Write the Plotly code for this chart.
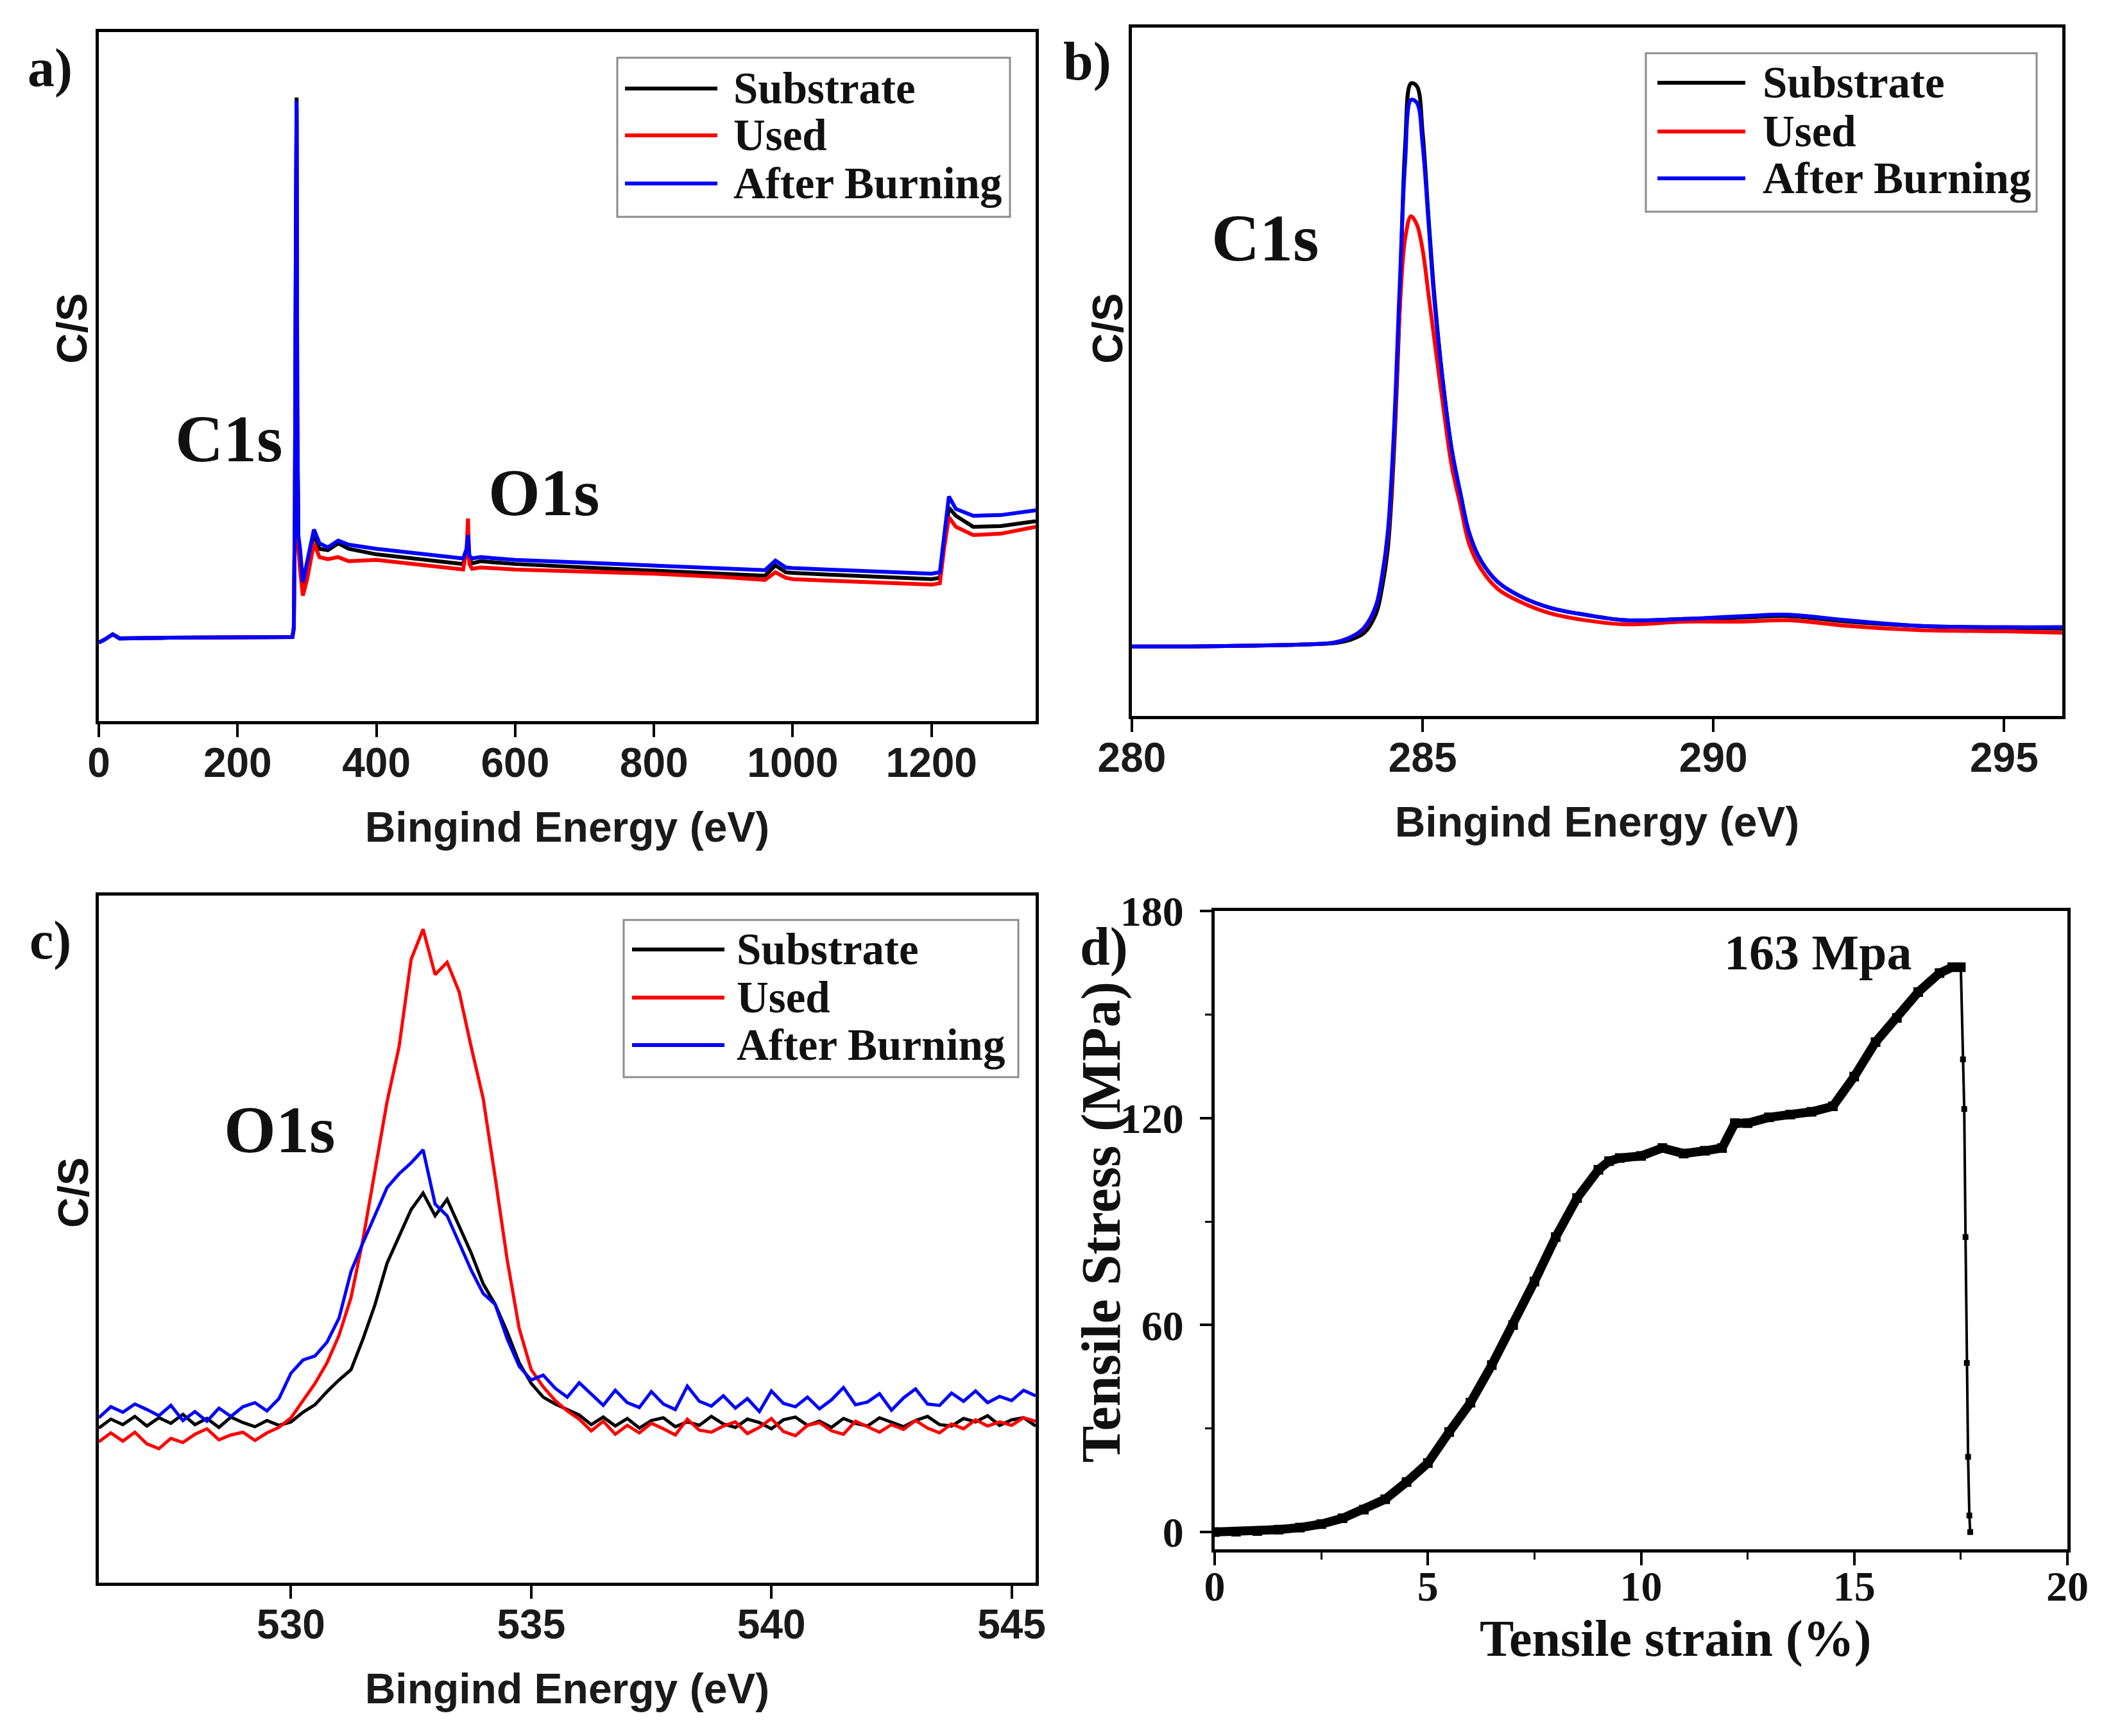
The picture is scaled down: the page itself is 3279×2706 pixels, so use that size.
import plotly.graph_objects as go

W, H = 3279, 2706

# ---------------- data ----------------
series_names = ["Substrate", "Used", "After Burning"]
series_colors = ["#000000", "#ff0000", "#0000ff"]

# a) survey spectrum
survey_ev = [0, 8, 20, 30, 100, 200, 279, 281, 282.5, 284, 285, 286, 287.5, 290, 294, 300,
             310, 318, 330, 345, 360, 400, 450, 500, 525, 530, 532, 534, 538, 550, 600, 700,
             800, 900, 960, 975, 990, 1000, 1100, 1200, 1212, 1218, 1225, 1235, 1260, 1300, 1350]
survey_substrate = [11.4, 11.8, 12.6, 12.0, 12.1, 12.2, 12.2, 13.5, 30, 70, 90.5, 45, 26, 24, 19.4, 22,
                    27.2, 25, 24.8, 25.8, 25.0, 24.2, 23.6, 23.0, 22.8, 24.5, 27.0, 23.4, 22.9, 23.2, 22.8, 22.3,
                    21.8, 21.4, 21.1, 22.6, 21.6, 21.5, 21.0, 20.6, 20.8, 26, 31.0, 29.8, 28.2, 28.3, 29.0]
survey_used = [11.4, 11.8, 12.6, 12.0, 12.1, 12.2, 12.2, 13.5, 29, 68, 89.0, 44, 25, 22, 18.2, 20.5,
               25.8, 23.8, 23.5, 23.8, 23.2, 23.4, 22.8, 22.2, 22.0, 25.0, 29.4, 22.8, 22.1, 22.3, 22.0, 21.7,
               21.4, 20.9, 20.5, 21.6, 20.8, 20.6, 20.2, 19.8, 20.0, 25, 29.6, 28.2, 27.0, 27.2, 28.2]
survey_burned = [11.4, 11.8, 12.6, 12.0, 12.1, 12.2, 12.2, 13.5, 31, 72, 90.0, 46, 27, 25, 20.2, 23,
                 27.8, 25.8, 25.2, 26.2, 25.6, 25.0, 24.4, 23.8, 23.6, 25.0, 27.0, 24.0, 23.6, 23.8, 23.4, 23.0,
                 22.6, 22.2, 21.9, 23.3, 22.3, 22.2, 21.8, 21.4, 21.6, 27, 32.6, 30.8, 29.8, 29.9, 30.6]

# b) C1s high resolution
c1s_ev = [280, 281, 282, 283, 283.5, 283.8, 284.0, 284.2, 284.3, 284.4, 284.5, 284.6, 284.7, 284.8,
          284.9, 285.0, 285.1, 285.2, 285.35, 285.5, 285.65, 285.8, 286.0, 286.3, 286.7, 287.2,
          287.8, 288.5, 289.5, 290.5, 291.3, 292.3, 293.5, 295, 296]
c1s_substrate = [10.1, 10.1, 10.2, 10.4, 10.6, 11.2, 12.1, 14.9, 18.5, 24.2, 37.1, 58.0, 83.0, 91.9,
                 91.5, 84.7, 72.6, 61.3, 48.4, 38.7, 32.3, 26.6, 22.6, 19.4, 17.3, 15.7,
                 14.7, 13.9, 14.1, 14.3, 14.5, 13.7, 13.1, 12.8, 12.7]
c1s_used = [10.1, 10.1, 10.2, 10.4, 10.7, 11.6, 12.8, 16.0, 20.0, 26.0, 38.7, 58.0, 69.4, 72.6,
            71.4, 67.7, 61.3, 54.8, 45.2, 36.3, 30.6, 25.0, 21.4, 18.4, 16.5, 14.9,
            13.9, 13.3, 13.7, 13.7, 13.9, 13.1, 12.5, 12.3, 12.1]
c1s_burned = [10.1, 10.1, 10.2, 10.4, 10.7, 11.6, 12.9, 16.1, 20.2, 26.6, 40.3, 61.3, 80.6, 89.5,
              89.1, 83.0, 71.8, 60.5, 48.4, 38.7, 32.3, 26.6, 22.6, 19.4, 17.3, 15.7,
              14.7, 13.9, 14.1, 14.5, 14.7, 13.9, 13.1, 12.9, 12.9]

# c) O1s high resolution (0.25 eV steps)
o1s_ev = [526.0, 526.25, 526.5, 526.75, 527.0, 527.25, 527.5, 527.75, 528.0, 528.25, 528.5, 528.75,
          529.0, 529.25, 529.5, 529.75, 530.0, 530.25, 530.5, 530.75, 531.0, 531.25, 531.5, 531.75,
          532.0, 532.25, 532.5, 532.75, 533.0, 533.25, 533.5, 533.75, 534.0, 534.25, 534.5, 534.75,
          535.0, 535.25, 535.5, 535.75, 536.0, 536.25, 536.5, 536.75, 537.0, 537.25, 537.5, 537.75,
          538.0, 538.25, 538.5, 538.75, 539.0, 539.25, 539.5, 539.75, 540.0, 540.25, 540.5, 540.75,
          541.0, 541.25, 541.5, 541.75, 542.0, 542.25, 542.5, 542.75, 543.0, 543.25, 543.5, 543.75,
          544.0, 544.25, 544.5, 544.75, 545.0, 545.25, 545.5]
o1s_substrate = [22.5, 23.8, 23.0, 24.2, 22.8, 24.0, 23.2, 24.5, 23.0, 23.9, 22.6, 24.1,
                 23.3, 22.7, 23.6, 22.9, 23.4, 24.8, 25.9, 27.8, 29.5, 31.0, 35.5, 40.5,
                 46.5, 50.5, 54.3, 56.7, 53.4, 55.8, 52.0, 48.0, 43.5, 40.5, 36.5, 32.0,
                 29.0, 27.0, 26.0, 25.2, 24.4, 23.0, 24.1, 22.8, 23.9, 22.5, 23.6, 24.0,
                 22.7, 23.4, 22.9, 24.2, 23.1, 22.6, 23.8, 23.3, 22.4, 23.7, 24.1, 22.9,
                 23.5, 22.6, 23.9, 23.2, 22.8, 24.0, 23.3, 22.7, 23.6, 24.2, 23.0, 22.8,
                 23.9, 23.4, 24.3, 22.9, 23.7, 24.0, 22.8]
o1s_used = [20.5, 21.8, 20.6, 21.9, 20.2, 19.5, 21.0, 20.4, 21.6, 22.4, 20.8, 21.5,
            21.9, 20.7, 21.8, 22.6, 24.0, 26.5, 29.0, 32.0, 36.0, 41.5, 50.0, 60.0,
            70.0, 78.0, 90.7, 95.1, 88.5, 90.3, 86.0, 78.0, 70.5, 59.0, 47.0, 37.0,
            31.0, 28.5, 26.5, 25.0, 23.8, 22.1, 23.5, 21.6, 22.9, 21.8, 23.2, 22.4,
            21.5, 23.8, 22.2, 21.9, 22.8, 23.4, 21.7, 22.6, 23.9, 22.0, 21.4, 22.9,
            23.3, 22.1, 21.6, 23.5, 22.7, 21.9, 23.0, 22.3, 23.6, 22.5, 21.8, 23.1,
            22.4, 23.7, 22.8, 23.4, 22.9, 24.0, 23.5]
o1s_burned = [24.0, 25.6, 24.8, 26.0, 25.2, 24.3, 25.8, 23.6, 24.9, 23.5, 25.4, 24.2,
              25.6, 26.2, 25.0, 26.8, 30.5, 32.4, 33.0, 35.0, 38.5, 45.3, 49.5, 53.4,
              57.5, 59.5, 61.1, 63.0, 55.1, 53.4, 49.5, 45.5, 42.1, 40.5, 35.5, 31.5,
              29.5, 30.2, 28.3, 27.0, 29.1, 27.4, 25.8, 28.0, 26.2, 25.5, 27.8, 26.0,
              25.2, 28.6, 26.4, 25.7, 27.2, 25.4, 26.8, 24.9, 27.9, 26.1, 25.6, 27.0,
              25.3, 26.6, 28.4, 25.9, 26.3, 27.5, 25.1, 26.9, 28.2, 26.0, 25.8, 27.6,
              26.4, 27.9, 26.2, 27.1, 26.5, 28.0, 27.2]

# d) tensile test
strain = [0, 0.5, 1, 1.5, 2, 2.5, 3, 3.5, 4, 4.5, 5, 5.5, 6, 6.5, 7, 7.5, 8, 8.5, 9, 9.25,
          9.5, 10, 10.5, 11, 11.5, 11.9, 12.2, 12.5, 13, 13.5, 14, 14.5, 15, 15.5, 16, 16.5,
          17, 17.3, 17.5]
stress = [0, 0.1, 0.3, 0.7, 1.3, 2.3, 4.0, 6.5, 9.5, 14.5, 20, 29, 37.5, 48.4, 60, 72.6, 85.5,
          96.8, 105, 107.5, 108.4, 109, 111.3, 109.7, 110.5, 111.3, 118.5, 118.5, 120.2, 121,
          121.8, 123.4, 132, 142, 149, 156.5, 162, 163.7, 163.7]
fracture_strain = [17.5, 17.55, 17.58, 17.61, 17.64, 17.67, 17.7, 17.72]
fracture_stress = [163.7, 137, 122.6, 85.5, 49, 21.8, 4.8, 0]


def dom_x(x0, x1):
    return [x0 / W, x1 / W]


def dom_y(y0, y1):
    return [1 - y1 / H, 1 - y0 / H]


sans_tick = dict(family="Liberation Sans", size=64, color="#1a1a1a", weight="bold")
sans_title = dict(family="Liberation Sans", size=66, color="#1a1a1a", weight="bold")
serif_tick = dict(family="Liberation Serif", size=66, color="#111111", weight="bold")

fig = go.Figure()

spectra = [
    ("x", "y", survey_ev, [survey_substrate, survey_used, survey_burned], 6, "linear"),
    ("x2", "y2", c1s_ev, [c1s_substrate, c1s_used, c1s_burned], 6, "spline"),
    ("x3", "y3", o1s_ev, [o1s_substrate, o1s_used, o1s_burned], 5, "linear"),
]
for xa, ya, ev, ys, lw, shape in spectra:
    for name, color, vals in zip(series_names, series_colors, ys):
        fig.add_trace(go.Scatter(x=ev, y=vals, mode="lines", name=name, showlegend=False,
                                 line=dict(color=color, width=lw, shape=shape), xaxis=xa, yaxis=ya))

fig.add_trace(go.Scatter(x=strain, y=stress, mode="lines+markers", showlegend=False,
                         line=dict(color="black", width=14), marker=dict(color="black", size=15, symbol="square"),
                         xaxis="x4", yaxis="y4"))
fig.add_trace(go.Scatter(x=fracture_strain, y=fracture_stress, mode="lines+markers", showlegend=False,
                         line=dict(color="black", width=4), marker=dict(color="black", size=9, symbol="square"),
                         xaxis="x4", yaxis="y4"))


def xps_x(domain, rng, tick0, dtick, anchor):
    return dict(domain=domain, range=rng, anchor=anchor, automargin=False, showline=True, linecolor="black",
                linewidth=5, mirror=True, ticks="outside", ticklen=20, tickwidth=4, tickcolor="black",
                tick0=tick0, dtick=dtick, showgrid=False, zeroline=False, tickfont=sans_tick,
                ticklabelstandoff=-15,
                title=dict(text="Bingind Energy (eV)", font=sans_title, standoff=44))


def xps_y(domain, anchor):
    return dict(domain=domain, range=[0, 100], anchor=anchor, automargin=False, showline=True,
                linecolor="black", linewidth=5, mirror=True, ticks="", showticklabels=False,
                showgrid=False, zeroline=False)


fig.update_layout(
    width=W, height=H, margin=dict(l=0, r=0, t=0, b=0),
    paper_bgcolor="white", plot_bgcolor="white", showlegend=False,
    xaxis=xps_x(dom_x(146, 1606), [0, 1350], 0, 200, "y"),
    yaxis=xps_y(dom_y(42, 1116), "x"),
    xaxis2=xps_x(dom_x(1756, 3206), [280, 296], 280, 5, "y2"),
    yaxis2=xps_y(dom_y(35, 1108), "x2"),
    xaxis3=xps_x(dom_x(146, 1606), [526, 545.5], 530, 5, "y3"),
    yaxis3=xps_y(dom_y(1388, 2459), "x3"),
    xaxis4=dict(domain=dom_x(1885, 3214), range=[0, 20], anchor="y4", automargin=False, showline=True,
                linecolor="black", linewidth=5, mirror=True, ticks="outside", ticklen=20, tickwidth=4,
                tickcolor="black", dtick=5,
                minor=dict(dtick=2.5, ticks="outside", ticklen=11, tickwidth=3, tickcolor="black"),
                showgrid=False, zeroline=False, tickfont=serif_tick, ticklabelstandoff=-24),
    yaxis4=dict(domain=dom_y(1412, 2407), range=[-5, 180], anchor="x4", automargin=False, showline=True,
                linecolor="black", linewidth=5, mirror=True, ticks="outside", ticklen=18, tickwidth=4,
                tickcolor="black", dtick=60,
                minor=dict(dtick=30, ticks="outside", ticklen=10, tickwidth=3, tickcolor="black"),
                showgrid=False, zeroline=False, tickfont=serif_tick, ticklabelstandoff=12),
)

shapes = []
annotations = []


def add_legend(box, rows, line_x, text_x):
    x0, x1, y0, y1 = box
    shapes.append(dict(type="rect", xref="paper", yref="paper", x0=x0 / W, x1=x1 / W,
                       y0=1 - y1 / H, y1=1 - y0 / H, line=dict(color="#8c8c8c", width=3),
                       fillcolor="white", layer="above"))
    for name, color, ry in zip(series_names, series_colors, rows):
        shapes.append(dict(type="line", xref="paper", yref="paper", x0=line_x[0] / W, x1=line_x[1] / W,
                           y0=1 - ry / H, y1=1 - ry / H, line=dict(color=color, width=6), layer="above"))
        annotations.append(dict(text=name, xref="paper", yref="paper", x=text_x / W, y=1 - ry / H,
                                xanchor="left", yanchor="middle", showarrow=False,
                                font=dict(family="Liberation Serif", size=69, color="#111111", weight="bold")))


add_legend((954, 1566, 82, 330), (130, 203, 278), (966, 1110), 1133)
add_legend((2557, 3166, 75, 322), (121, 197, 270), (2575, 2712), 2737)
add_legend((964, 1579, 1426, 1671), (1472, 1547, 1621), (977, 1121), 1138)


def add_text(text, x, y, size, family="Liberation Serif", angle=0):
    annotations.append(dict(text=text, xref="paper", yref="paper", x=x / W, y=1 - y / H,
                            xanchor="center", yanchor="middle", showarrow=False, textangle=angle,
                            font=dict(family=family, size=size, color="#111111", weight="bold")))


add_text("a)", 70, 98, 84)
add_text("b)", 1686, 88, 84)
add_text("c)", 70, 1458, 84)
add_text("d)", 1712, 1468, 84)
add_text("C1s", 349, 676, 104)
add_text("O1s", 839, 759, 104)
add_text("C1s", 1964, 362, 104)
add_text("O1s", 427, 1752, 104)
add_text("163 Mpa", 2825, 1476, 78)

# y-axis titles (placed off-centre, as in the original figure)
add_text("C/S", 104, 504, 66, family="Liberation Sans", angle=-90)
add_text("C/S", 1718, 504, 66, family="Liberation Sans", angle=-90)
add_text("C/S", 106, 1851, 66, family="Liberation Sans", angle=-90)
add_text("Tensile Stress (MPa)", 1708, 1897, 86, angle=-90)
add_text("Tensile strain (%)", 2603, 2546, 80)

fig.update_layout(shapes=shapes, annotations=annotations)

fig.write_html("out.html")
